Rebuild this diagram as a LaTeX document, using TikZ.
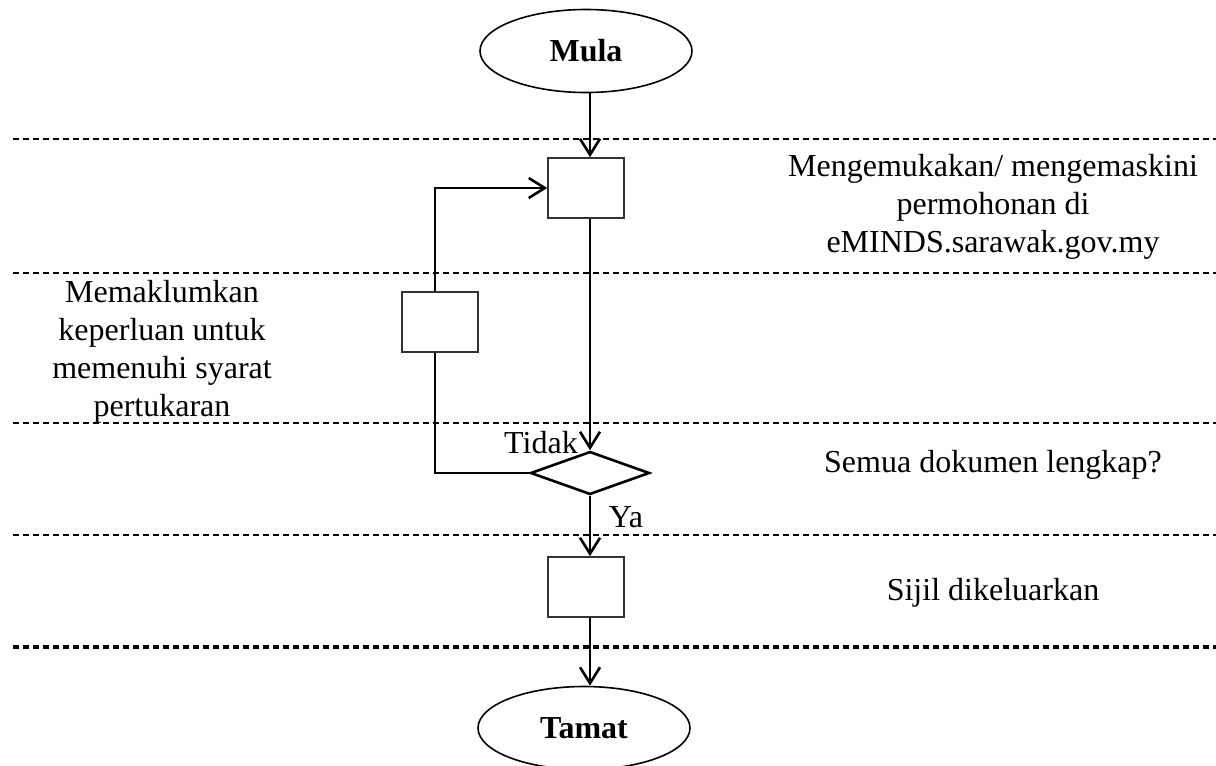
\documentclass[tikz,border=0pt]{standalone}
\usepackage{fontspec}
\setmainfont{Liberation Serif}
\usetikzlibrary{shapes.geometric,arrows.meta}

\begin{document}
\begin{tikzpicture}[x=0.5pt,y=-0.5pt,
    font=\fontsize{16pt}{19pt}\selectfont,
    lane/.style={line width=1.2pt,dash pattern=on 3pt off 2pt},
    flow/.style={line width=1.3pt,-{Straight Barb[length=8pt,width=10pt,line width=1.3pt]}},
    terminal/.style={draw,ellipse,line width=0.8pt,minimum width=106pt,minimum height=41.5pt,font=\fontsize{16pt}{19pt}\selectfont\bfseries},
    process/.style={draw=black!80,fill=white,line width=0.8pt,minimum width=38pt,minimum height=30pt,inner sep=0pt},
    decision/.style={draw,diamond,line width=1.3pt,minimum width=59.5pt,minimum height=21.5pt,inner sep=0pt},
    note/.style={align=center}]
        \useasboundingbox (0,0) rectangle (1216,766);
        % lane separators
        \foreach \y in {139,273,423,535}
            \draw[lane] (13,\y) -- (1216,\y);
        \draw[lane,line width=1.8pt] (13,647) -- (1216,647);
        % steps
        \node[terminal] (mula) at (586,51) {Mula};
        \node[process] (submit) at (586,188) {};
        \node[decision] (check) at (590,473) {};
        \node[process] (issue) at (586,587) {};
        \node[terminal] (tamat) at (584,728) {Tamat};
        % flow
        \coordinate (back) at (435,473);
        \draw[flow] (mula.south -| check.north) -- (submit.north -| check.north);
        \draw[flow] (submit.south -| check.north) -- (check.north);
        \draw[flow] (check.west) -- (back) -- (back |- submit.west) -- (submit.west);
        \draw[flow] (check.south) -- (issue.north -| check.south);
        \draw[flow] (issue.south -| check.south) -- (tamat.north -| check.south);
        \node[process] (inform) at (440,322) {};
        % texts
        \node[note] (submittxt) at (993,207) {Mengemukakan/ mengemaskini\\permohonan di\\eMINDS.sarawak.gov.my};
        \node[note] (informtxt) at (162,352) {Memaklumkan\\keperluan untuk\\memenuhi syarat\\pertukaran};
        \node (checktxt) at (993,465) {Semua dokumen lengkap?};
        \node (issuetxt) at (993,593) {Sijil dikeluarkan};
        \node (no) at (541,443) {Tidak};
        \node (yes) at (626,517) {Ya};
    \end{tikzpicture}
\end{document}
